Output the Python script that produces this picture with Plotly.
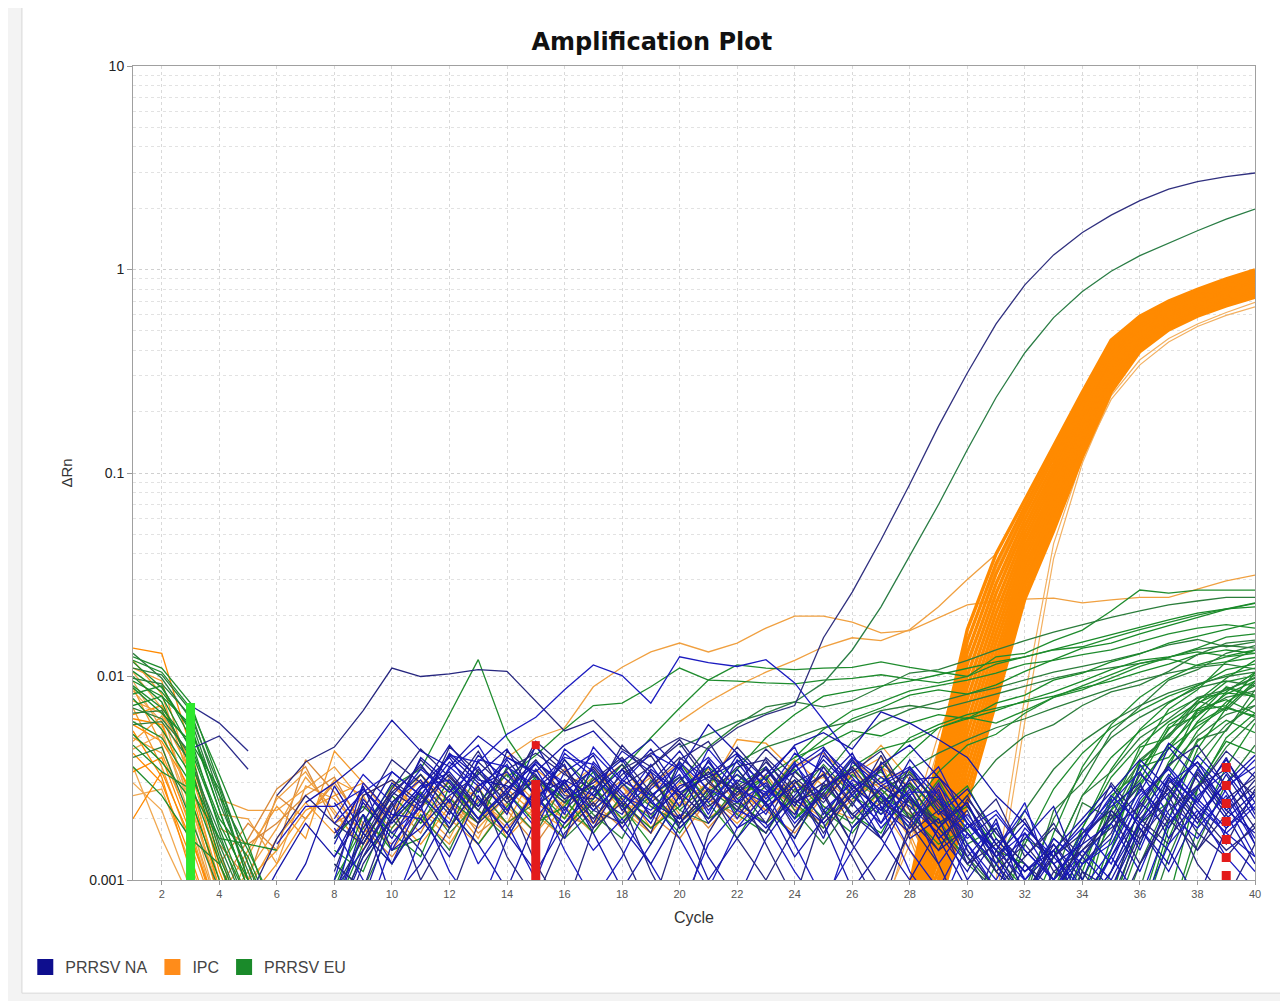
import plotly.graph_objects as go

# all curve values are in thousandths of dRn (1 = 0.001); converted when plotted

# --- IPC (orange) ---
ipc_early = [  # cycles 1..5
    [13.8, 13.0, 4.5, 1.2, 0.6],
    [11.0, 9.5, 3.2, 0.9, 0.5],
    [8.5, 6.0, 2.4, 0.8, 0.4],
    [6.5, 7.2, 3.8, 1.1, 0.5],
    [5.0, 4.2, 1.9, 0.7, 0.4],
    [9.5, 5.5, 2.0, 0.6, 0.3],
    [4.2, 3.0, 1.3, 0.5, 0.3],
    [7.0, 3.6, 1.5, 0.6, 0.3],
    [3.0, 2.2, 0.9, 0.4, 0.3],
    [5.8, 4.8, 2.8, 0.9, 0.4],
    [12.0, 8.2, 3.0, 1.0, 0.5],
    [3.6, 1.6, 0.8, 0.4, 0.3],
    [6.2, 5.8, 2.6, 0.8, 0.4],
    [4.8, 6.4, 3.4, 1.2, 0.5],
    [10.5, 7.0, 2.2, 0.7, 0.3],
    [3.4, 4.0, 1.7, 0.6, 0.3],
    [7.6, 6.6, 3.9, 1.4, 0.5],
    [2.6, 2.8, 1.2, 0.5, 0.3],
    [5.4, 3.2, 1.1, 0.5, 0.3],
    [8.8, 4.6, 1.8, 0.6, 0.3],
    [4.4, 5.2, 2.3, 0.9, 0.4],
    [2.0, 3.4, 1.6, 0.7, 0.3],
]

ipc_noise = [  # cycles 4..29
    [2.5, 2.2, 2.2, 2.8, 3.6, 2.4, 1.8, 2.7, 2.0, 1.5, 2.4, 3.1, 2.3, 1.7, 2.6, 3.3, 2.1, 1.9, 2.8, 3.5, 2.5, 2.0, 2.9, 2.3, 1.4, 0.8],
    [1.2, 1.9, 1.4, 3.9, 2.7, 1.6, 2.4, 1.7, 3.2, 2.5, 1.8, 2.6, 3.5, 2.4, 1.8, 2.9, 3.8, 2.6, 2.0, 2.7, 3.6, 4.2, 3.1, 2.5, 1.9, 1.0],
    [0.8, 1.4, 2.3, 1.6, 4.3, 3.0, 2.0, 3.3, 2.4, 1.9, 2.8, 2.1, 1.6, 2.9, 3.7, 2.3, 1.9, 2.8, 4.9, 4.7, 3.4, 2.6, 3.3, 4.0, 2.6, 1.2],
    [0.7, 1.1, 1.8, 3.2, 2.2, 1.4, 2.9, 2.2, 1.6, 3.0, 2.3, 1.7, 2.5, 3.2, 2.2, 1.7, 2.6, 3.4, 2.4, 1.9, 2.8, 3.2, 2.4, 3.6, 2.9, 1.5],
    [1.5, 1.0, 2.6, 2.0, 3.0, 1.9, 1.5, 2.3, 2.8, 2.0, 3.4, 2.4, 1.9, 2.4, 3.1, 2.6, 2.0, 2.3, 3.0, 2.2, 1.7, 2.6, 3.6, 2.8, 2.1, 0.9],
    [0.6, 0.9, 1.6, 2.4, 1.7, 2.6, 3.1, 2.0, 1.5, 2.5, 1.9, 3.5, 2.7, 2.0, 2.9, 1.8, 2.4, 3.0, 2.2, 3.1, 2.4, 1.8, 2.5, 3.2, 3.4, 1.8],
    [2.1, 2.0, 1.2, 2.9, 2.5, 1.7, 2.2, 3.1, 2.3, 1.8, 2.6, 2.0, 2.8, 3.6, 2.4, 2.1, 3.0, 2.5, 1.9, 2.6, 3.1, 2.3, 2.0, 2.7, 1.6, 0.7],
    [0.9, 1.6, 2.8, 3.6, 1.9, 2.3, 1.7, 2.5, 3.0, 2.2, 1.7, 2.9, 2.1, 1.8, 2.5, 3.2, 2.6, 1.8, 2.6, 3.3, 2.2, 2.8, 3.9, 3.0, 2.2, 1.1],
    [0.5, 0.8, 1.2, 2.0, 3.1, 2.6, 1.4, 2.2, 1.8, 2.9, 1.6, 2.3, 3.0, 1.9, 2.4, 1.7, 2.7, 2.0, 2.6, 3.0, 2.1, 3.4, 2.8, 3.7, 2.0, 0.9],
    [0.6, 1.3, 2.5, 3.4, 2.1, 1.5, 2.6, 1.9, 2.4, 1.6, 3.1, 2.2, 1.8, 2.6, 2.0, 3.0, 2.3, 2.8, 3.3, 2.6, 3.9, 2.9, 3.2, 4.6, 3.1, 1.6],
    [1.8, 1.5, 1.9, 2.6, 3.2, 1.8, 1.3, 2.0, 2.6, 1.7, 2.2, 1.5, 2.4, 1.9, 2.9, 2.1, 1.6, 2.5, 2.1, 2.9, 2.3, 1.9, 2.7, 3.0, 2.4, 1.3],
    [0.7, 1.0, 1.4, 2.2, 2.6, 3.0, 2.1, 1.5, 2.3, 2.8, 1.9, 2.5, 2.0, 3.1, 2.4, 1.8, 2.8, 3.5, 2.7, 2.2, 3.0, 2.5, 3.4, 2.6, 1.7, 0.8],
]

ipc_band = [  # cycles 27..40
    [0.3, 0.95, 4.2, 17, 40, 74, 135, 250, 450, 590, 700, 800, 900, 995],
    [0.3, 0.9, 3.73, 14.9, 35.8, 68.6, 127, 238, 433, 574, 685, 784, 882, 975],
    [0.3, 0.85, 3.31, 13.1, 32.0, 63.7, 119, 227, 416, 559, 670, 768, 864, 955],
    [0.3, 0.8, 2.93, 11.5, 28.6, 59.1, 111, 216, 400, 545, 656, 753, 846, 935],
    [0.3, 0.75, 2.60, 10.1, 25.6, 54.8, 104, 206, 385, 530, 641, 738, 829, 916],
    [0.3, 0.7, 2.31, 8.86, 22.9, 50.8, 98, 196, 370, 516, 628, 723, 812, 897],
    [0.3, 0.65, 2.05, 7.78, 20.5, 47.1, 92, 186, 356, 503, 614, 708, 796, 879],
    [0.3, 0.6, 1.82, 6.83, 18.3, 43.7, 86, 178, 342, 489, 601, 694, 780, 861],
    [0.3, 0.55, 1.61, 5.99, 16.4, 40.6, 81, 169, 329, 476, 588, 680, 764, 843],
    [0.3, 0.5, 1.43, 5.26, 14.7, 37.6, 76, 161, 316, 464, 575, 666, 749, 826],
    [0.3, 0.5, 1.27, 4.62, 13.1, 34.9, 71, 153, 304, 452, 563, 653, 733, 809],
    [0.3, 0.45, 1.13, 4.05, 11.7, 32.4, 67, 146, 292, 440, 551, 640, 718, 793],
    [0.3, 0.45, 1.00, 3.56, 10.5, 30.0, 63, 139, 281, 428, 539, 627, 704, 777],
    [0.3, 0.4, 0.89, 3.12, 9.4, 27.9, 59, 132, 270, 417, 527, 614, 690, 761],
    [0.3, 0.4, 0.79, 2.74, 8.4, 25.8, 55.5, 126, 260, 406, 516, 602, 676, 745],
    [0.3, 0.35, 0.70, 2.40, 7.5, 24.0, 52, 120, 250, 395, 505, 590, 662, 730],
]
ipc_fan = [  # cycles 27..40, thin wells beside the band
    [0.7, 1.5, 4.5, 13, 34, 66, 118, 220, 395, 555, 678, 780, 875, 970],
    [0.6, 1.8, 5.2, 12, 28, 55, 104, 200, 368, 530, 652, 752, 850, 948],
]
ipc_late = [  # cycles 31..40
    [1.0, 8.0, 45, 118, 230, 340, 440, 525, 595, 655],
    [0.8, 6.0, 38, 112, 240, 360, 458, 540, 615, 690],
]
ipc_high = [4.0, 5.0, 5.6, 8.9, 11.1, 13.2, 14.6, 13.2, 14.6, 17.3, 19.8, 19.8, 18.5, 16.4,
            16.8, 19.5, 22.5, 23.5, 24.0, 24.3, 23.0, 23.8, 24.5, 24.5, 27.0, 29.5, 31.5]  # from 14
ipc_rising = [6.0, 7.5, 9.0, 10.5, 12.0, 14.0, 15.5, 15.0, 17.0, 22.0, 30, 40, 74, 130,
              240, 440, 585, 695, 795, 895, 990]  # from 20

# --- PRRSV EU (green) ---
eu_early = [  # cycles 1..6
    [12.5, 11.0, 7.4, 3.0, 1.2, 0.6],
    [11.0, 10.2, 6.8, 2.6, 1.0, 0.5],
    [9.5, 8.0, 5.8, 2.2, 0.9, 0.4],
    [8.2, 9.0, 5.0, 1.8, 0.8, 0.4],
    [7.0, 6.2, 4.2, 1.5, 0.7, 0.3],
    [10.0, 7.5, 3.6, 1.3, 0.6, 0.3],
    [6.0, 5.0, 3.0, 1.2, 0.5, 0.3],
    [13.0, 9.8, 6.2, 2.4, 1.1, 0.5],
    [5.2, 3.8, 2.5, 1.0, 0.5, 0.3],
    [9.0, 7.0, 4.6, 2.0, 1.3, 0.6],
    [4.0, 4.5, 2.0, 0.9, 0.4, 0.3],
    [7.8, 5.5, 3.3, 1.6, 1.5, 1.4],
    [11.8, 8.8, 5.4, 2.6, 1.4, 0.7],
    [6.6, 6.8, 4.0, 1.4, 0.6, 0.3],
    [8.8, 6.6, 4.8, 2.8, 1.0, 0.4],
    [12.0, 10.5, 7.0, 3.3, 1.5, 0.6],
    [5.8, 6.0, 3.8, 1.7, 0.7, 0.3],
    [10.6, 8.4, 5.6, 2.2, 0.9, 0.4],
    [3.6, 2.6, 1.6, 1.2, 0.6, 0.3],
    [9.8, 9.2, 6.4, 2.9, 1.2, 0.5],
    [7.2, 8.0, 4.4, 1.9, 1.0, 0.5],
    [4.6, 3.4, 2.8, 1.6, 0.8, 0.4],
]
eu_noise = [  # cycles 8..32
    [0.7, 1.5, 2.6, 1.9, 3.1, 2.2, 1.6, 2.8, 2.0, 3.2, 2.3, 1.5, 2.6, 3.4, 2.1, 1.7, 2.8, 2.0, 3.3, 2.5, 1.8, 2.6, 1.9, 1.3, 0.9],
    [1.2, 0.9, 1.8, 2.7, 1.8, 3.4, 2.4, 1.7, 3.0, 2.1, 1.6, 3.1, 2.2, 1.9, 2.9, 3.6, 2.2, 1.5, 2.4, 3.2, 2.6, 1.8, 1.3, 0.9, 0.7],
    [0.9, 2.1, 1.4, 1.6, 2.5, 1.9, 3.6, 2.6, 1.8, 2.5, 3.7, 2.4, 1.7, 2.7, 3.5, 2.3, 1.6, 2.9, 2.1, 1.7, 3.0, 2.2, 2.9, 1.6, 1.1],
    [1.4, 1.1, 2.4, 3.3, 2.2, 1.5, 2.3, 3.2, 2.5, 1.7, 2.6, 2.0, 3.8, 2.4, 1.6, 2.7, 3.5, 2.3, 1.9, 2.8, 2.0, 3.1, 1.7, 1.2, 0.8],
    [0.8, 1.7, 1.2, 2.1, 1.4, 2.8, 1.9, 2.4, 3.9, 2.8, 1.9, 2.6, 3.2, 2.0, 2.4, 1.9, 2.5, 3.7, 2.6, 2.1, 3.4, 2.4, 1.5, 1.8, 1.0],
    [1.6, 2.3, 1.7, 1.3, 2.9, 2.0, 2.7, 1.9, 2.3, 3.4, 2.4, 1.8, 2.3, 3.6, 2.7, 3.2, 2.0, 2.6, 3.9, 2.4, 2.9, 1.9, 2.3, 1.4, 1.2],
    [1.0, 1.8, 2.9, 3.5, 6.5, 12.1, 5.0, 3.1, 2.4, 2.9, 2.0, 2.7, 1.8, 2.5, 3.3, 2.4, 3.1, 2.2, 1.7, 2.6, 2.1, 1.5, 1.8, 1.1, 0.8],
    [0.7, 1.3, 2.0, 2.6, 1.7, 2.4, 3.3, 2.2, 1.6, 2.2, 3.0, 2.3, 1.9, 2.8, 2.2, 2.9, 2.4, 1.8, 2.9, 3.4, 2.4, 2.0, 1.2, 0.9, 0.7],
]
eu_mid_start = [18, 20, 22, 24, 25, 26, 14, 20, 22, 24, 26, 27, 28, 29, 23]
eu_mid = [
    [3.5, 5.0, 7.0, 9.6, 11.4, 11.0, 10.8, 11.0, 11.1, 11.8, 11.1, 10.5, 10.0, 12.5, 13.0, 15.0, 16.9, 21.0, 26.6, 25.7, 26.6, 26.6, 26.6],
    [3.0, 4.5, 5.8, 7.1, 7.5, 7.1, 7.6, 8.9, 10.4, 10.8, 12.0, 13.5, 15.0, 16.5, 18.0, 19.5, 21.0, 22.5, 23.5, 24.5, 24.5],
    [3.5, 5.0, 6.5, 8.0, 8.5, 9.0, 9.5, 10.2, 11.0, 11.8, 12.5, 13.6, 14.8, 16.0, 17.5, 19.0, 20.5, 21.5, 22.0],
    [4.0, 5.5, 6.8, 7.5, 8.5, 9.0, 9.6, 10.4, 11.5, 12.0, 12.8, 13.5, 14.8, 16.2, 17.3, 18.0, 17.3],
    [3.2, 4.8, 6.0, 6.9, 7.5, 8.2, 8.8, 9.6, 10.5, 11.2, 12.0, 13.0, 14.3, 15.2, 14.0, 14.8],
    [2.5, 3.5, 5.0, 5.8, 6.5, 7.0, 7.5, 8.0, 8.8, 9.5, 10.5, 11.5, 12.8, 13.5, 13.0],
    [3.2, 4.1, 5.5, 7.2, 7.4, 8.9, 11.0, 9.6, 9.5, 9.3, 9.2, 9.6, 9.8, 10.2, 9.7, 9.3, 10.0, 11.5, 12.5, 13.5, 14.0, 15.5, 17.0, 18.5, 20.0, 21.5, 23.0],
    [2.2, 3.0, 3.8, 4.5, 5.0, 5.6, 6.0, 6.8, 7.2, 6.9, 7.5, 8.2, 9.0, 9.8, 10.5, 11.0, 11.6, 12.4, 13.6, 14.2, 13.8],
    [2.5, 3.2, 4.0, 4.6, 5.4, 5.1, 5.9, 6.5, 6.2, 6.8, 7.6, 8.4, 9.5, 10.8, 12.0, 12.5, 13.2, 12.6, 13.5],
    [2.0, 2.8, 3.6, 4.4, 4.8, 5.6, 6.3, 5.9, 6.8, 7.9, 9.0, 10.2, 11.6, 12.2, 11.3, 11.8, 12.4],
    [1.8, 2.6, 3.5, 4.2, 4.9, 5.6, 6.2, 7.0, 7.8, 8.7, 9.6, 10.4, 11.1, 11.5, 10.9],
    [3.0, 4.2, 5.6, 6.2, 7.4, 8.1, 9.6, 10.4, 11.8, 12.9, 14.6, 15.8, 17.1, 18.4],
    [2.2, 3.4, 4.6, 5.2, 6.6, 7.9, 8.6, 9.8, 11.2, 12.4, 13.8, 15.6, 16.2],
    [1.8, 2.6, 3.9, 5.1, 5.8, 7.2, 8.4, 9.1, 10.6, 12.8, 14.6, 15.1],
    [2.6, 3.8, 4.9, 6.2, 7.0, 8.1, 8.6, 8.2, 9.1, 10.6, 12.1, 13.8, 14.6, 16.2, 17.8, 19.6, 21.4, 22.9],
]
eu_late_start = [31, 31, 32, 32, 33, 33, 34, 34, 34, 35, 35, 35, 36, 36, 36, 37, 37, 33, 32, 30,
                 33, 34, 32, 35, 33, 36, 34, 35, 31, 36, 34, 32, 37, 33]
eu_late = [
    [0.6, 1.5, 2.8, 4.2, 5.6, 6.8, 8.0, 9.0, 10.2, 11.0],
    [0.5, 0.9, 2.0, 3.4, 5.0, 6.3, 7.5, 8.8, 9.5, 9.0],
    [0.6, 1.3, 2.6, 4.0, 5.4, 6.6, 7.8, 8.3, 8.0],
    [0.5, 0.9, 1.8, 3.2, 4.6, 6.0, 7.4, 8.6, 9.8],
    [0.6, 1.2, 2.4, 3.8, 5.2, 6.6, 7.9, 8.5],
    [0.5, 1.0, 1.9, 3.0, 4.4, 5.7, 7.0, 6.4],
    [0.6, 1.4, 2.9, 4.6, 6.4, 8.2, 9.5],
    [0.5, 1.1, 2.2, 3.6, 5.1, 6.5, 7.2],
    [0.6, 1.6, 3.4, 5.5, 7.6, 9.8, 12.0],
    [0.6, 1.5, 3.2, 5.4, 7.5, 9.0],
    [0.5, 1.2, 2.5, 4.1, 5.8, 7.2],
    [0.7, 1.9, 3.8, 6.0, 8.4, 10.5],
    [0.6, 1.6, 3.5, 5.5, 7.8],
    [0.5, 1.3, 2.8, 4.5, 6.2],
    [0.7, 2.0, 4.4, 7.0, 9.5],
    [0.6, 1.8, 3.6, 5.9],
    [0.6, 1.5, 3.0, 4.6],
    [0.7, 1.8, 3.5, 5.5, 7.4, 9.0, 10.8, 11.5],
    [0.7, 1.7, 3.6, 5.8, 7.9, 9.8, 11.4, 12.5, 13.0],
    [0.6, 1.2, 2.2, 3.5, 4.8, 6.0, 7.2, 8.3, 9.2, 10.0, 10.5],
    [0.6, 1.1, 2.6, 3.4, 5.8, 6.9, 8.8, 7.9],
    [0.7, 2.2, 3.1, 5.6, 6.4, 8.9, 8.1],
    [0.6, 1.0, 2.4, 2.0, 3.9, 5.1, 7.6, 6.8, 9.3],
    [0.8, 2.4, 3.6, 6.8, 7.2, 10.4],
    [0.5, 1.7, 2.2, 4.5, 5.0, 7.3, 9.4, 10.1],
    [0.9, 2.6, 4.9, 5.4, 8.6],
    [0.6, 1.4, 3.8, 4.4, 6.9, 7.7, 6.6],
    [0.7, 1.9, 2.4, 4.8, 6.1, 5.3],
    [0.7, 1.6, 1.3, 2.6, 3.4, 5.0, 6.2, 7.9, 8.6, 9.9],
    [0.6, 1.8, 2.9, 4.8, 4.2],
    [0.8, 2.5, 4.2, 6.9, 8.6, 11.8, 13.5],
    [0.8, 2.2, 3.0, 5.3, 7.1, 9.6, 10.8, 13.0, 14.2],
    [0.8, 2.8, 5.0, 6.6],
    [0.6, 1.3, 1.9, 3.6, 4.0, 5.9, 7.1, 6.3],
]
eu_amp = [4.5, 5.2, 6.0, 6.6, 7.5, 9.3, 13.5, 22, 39, 70, 130, 235, 390, 580,
          780, 980, 1170, 1350, 1550, 1770, 1980]  # from 20

# --- PRRSV NA (blue) ---
na_short = [[7.2, 5.9, 4.3], [4.4, 5.1, 3.5]]  # cycles 3..5
na_noise_start = [8, 8, 8, 8, 8, 8, 8, 8, 8, 8, 9, 9, 9, 9, 10, 5, 5, 6, 6, 8, 8, 8, 6, 8, 7,
                  8, 8, 8, 8, 8, 8]
na_noise = [
    [0.7, 1.9, 3.4, 2.6, 4.1, 3.0, 2.2, 3.8, 2.9, 1.8, 3.1, 4.4, 2.7, 2.0, 3.5, 2.4, 1.6, 3.0, 4.2, 2.3, 1.7, 2.8, 1.4, 0.9, 1.7, 1.2, 0.8, 1.3, 2.4, 1.8, 3.3, 2.1, 1.2],
    [1.2, 0.9, 2.2, 3.9, 2.8, 1.9, 4.3, 3.2, 2.4, 3.6, 2.5, 1.7, 3.9, 4.8, 2.9, 1.9, 3.4, 2.6, 1.5, 3.8, 2.8, 1.6, 2.2, 1.1, 0.8, 1.5, 1.0, 0.8, 1.7, 3.1, 2.2, 1.5, 2.8],
    [0.8, 2.5, 1.7, 2.3, 3.5, 4.6, 2.7, 1.8, 3.4, 4.2, 3.0, 2.1, 2.8, 3.6, 2.0, 3.3, 4.5, 2.2, 3.0, 1.8, 2.6, 3.6, 1.9, 1.4, 2.4, 0.9, 1.3, 1.9, 1.1, 2.4, 4.1, 2.9, 3.6],
    [1.5, 2.9, 1.4, 1.8, 2.6, 3.3, 4.4, 2.5, 1.9, 2.7, 4.3, 3.4, 1.8, 2.5, 4.1, 2.8, 2.1, 3.6, 2.4, 1.6, 3.2, 2.1, 2.8, 1.7, 1.2, 0.8, 1.6, 2.3, 3.0, 1.6, 2.5, 3.9, 2.4],
    [0.9, 1.6, 2.8, 4.4, 3.2, 2.3, 3.0, 4.5, 3.4, 2.2, 1.9, 2.9, 4.0, 3.1, 2.2, 4.0, 2.9, 1.7, 2.7, 3.5, 2.0, 1.4, 1.8, 2.5, 1.3, 1.9, 1.1, 0.9, 2.0, 2.8, 1.7, 1.3, 1.9],
    [2.0, 3.3, 2.4, 3.1, 1.8, 2.9, 3.7, 2.1, 4.2, 3.2, 2.4, 3.7, 2.3, 4.4, 3.0, 2.1, 3.7, 2.5, 3.9, 2.6, 1.9, 3.0, 1.5, 1.0, 1.8, 1.3, 0.9, 1.4, 2.6, 3.5, 2.3, 1.7, 1.3],
    [0.6, 1.3, 2.0, 2.9, 4.0, 2.5, 1.7, 2.8, 3.7, 1.9, 3.5, 2.6, 3.3, 1.9, 2.7, 3.5, 2.3, 4.1, 2.9, 2.2, 3.9, 2.6, 1.2, 1.8, 1.0, 1.4, 2.0, 2.9, 1.8, 1.2, 2.6, 3.4, 2.2],
    [1.7, 2.2, 3.9, 3.0, 2.1, 3.8, 2.8, 3.9, 2.6, 2.5, 4.6, 3.2, 2.0, 3.0, 4.5, 3.1, 1.8, 2.9, 3.4, 4.3, 2.5, 1.9, 2.4, 1.2, 0.8, 1.6, 1.2, 1.7, 3.3, 2.6, 1.4, 2.1, 3.1],
    [1.0, 3.0, 2.1, 2.0, 3.6, 2.7, 4.0, 3.3, 1.6, 3.8, 2.7, 1.9, 3.6, 2.4, 3.3, 2.6, 4.2, 3.4, 2.0, 2.9, 3.5, 2.3, 1.6, 2.1, 1.4, 1.0, 1.7, 2.5, 1.4, 3.0, 3.8, 2.7, 1.6],
    [2.4, 1.5, 2.6, 3.7, 2.4, 4.1, 3.1, 2.3, 3.0, 4.1, 2.2, 3.0, 4.3, 2.7, 1.8, 2.2, 3.1, 1.9, 2.6, 3.7, 4.6, 3.2, 2.0, 1.3, 1.9, 1.2, 0.7, 1.1, 2.2, 4.5, 3.1, 2.0, 2.7],
    [1.3, 2.4, 3.3, 2.2, 3.5, 2.6, 4.8, 3.6, 2.3, 3.3, 4.1, 2.5, 3.4, 2.6, 3.8, 2.7, 3.3, 1.8, 2.4, 3.0, 1.8, 2.6, 1.5, 2.0, 1.1, 1.4, 2.0, 2.9, 1.9, 2.8, 4.3, 3.2],
    [2.1, 1.2, 2.5, 3.8, 2.9, 3.4, 2.2, 4.4, 3.4, 1.8, 2.8, 3.7, 2.1, 3.9, 2.9, 2.0, 4.4, 3.2, 2.1, 2.7, 2.7, 1.3, 1.9, 1.0, 1.6, 1.2, 1.6, 3.7, 2.4, 1.8, 2.6, 1.5],
    [0.8, 2.0, 4.0, 3.0, 2.0, 2.8, 3.7, 2.5, 3.0, 3.9, 2.4, 2.0, 3.9, 2.4, 3.6, 2.4, 2.8, 3.5, 1.9, 3.6, 2.2, 1.7, 1.2, 1.6, 2.3, 1.0, 2.2, 1.5, 3.2, 2.0, 3.0, 4.1],
    [1.8, 2.7, 2.2, 4.5, 3.4, 2.4, 3.1, 2.8, 2.0, 2.9, 3.6, 4.7, 3.0, 2.3, 1.7, 3.0, 3.6, 2.3, 4.1, 2.2, 1.4, 2.5, 1.7, 1.2, 0.9, 1.5, 3.0, 2.0, 1.5, 3.4, 2.2, 2.9],
    [1.4, 2.6, 1.9, 3.9, 3.6, 2.9, 4.0, 3.7, 2.6, 2.2, 3.1, 4.0, 2.8, 2.4, 3.8, 2.1, 3.1, 2.7, 1.8, 2.9, 1.9, 1.4, 2.2, 1.3, 1.8, 1.2, 2.5, 3.6, 2.5, 1.8, 2.4],
    [0.6, 1.1, 1.9, 1.3, 2.4, 1.6, 2.8, 3.4, 2.3, 3.9, 2.6, 3.1, 2.6, 3.5, 2.0, 2.9, 3.3, 4.2, 2.3, 2.9, 1.6, 3.8, 2.9, 2.3, 1.7, 1.1, 2.0, 0.8, 1.3, 1.9, 2.7, 3.9, 2.8, 1.9, 3.3, 2.0],
    [0.8, 1.6, 2.6, 1.9, 1.5, 2.7, 3.6, 2.7, 4.3, 2.5, 3.3, 2.2, 3.1, 4.0, 2.7, 1.9, 2.6, 3.6, 3.9, 2.5, 3.3, 2.1, 2.8, 3.3, 2.4, 1.7, 1.1, 1.5, 1.0, 1.4, 1.8, 2.3, 3.7, 4.6, 2.9, 1.8],
    [1.5, 2.3, 2.3, 2.8, 2.0, 2.9, 3.1, 2.0, 2.7, 3.8, 3.0, 2.2, 3.0, 4.2, 3.5, 2.2, 3.1, 2.7, 3.4, 4.3, 2.6, 1.9, 2.8, 1.6, 2.1, 1.4, 1.0, 0.7, 1.2, 1.5, 2.8, 2.0, 3.5, 2.4, 1.3],
    [0.7, 1.2, 2.9, 1.7, 3.0, 2.3, 4.2, 3.2, 2.1, 4.6, 2.7, 3.5, 2.3, 3.4, 2.6, 3.8, 2.5, 1.8, 2.6, 3.9, 2.8, 3.6, 1.6, 2.0, 1.0, 1.6, 1.1, 1.5, 0.9, 1.0, 1.9, 2.7, 3.8, 2.3, 3.4],
    [1.1, 2.6, 3.1, 2.4, 3.3, 2.2, 3.5, 4.2, 3.3, 2.8, 3.7, 2.4, 3.2, 2.3, 3.0, 4.4, 3.2, 2.4, 3.6, 2.4, 2.0, 2.5, 1.4, 0.9, 1.3, 1.8, 1.3, 2.1, 1.2, 2.2, 2.9, 3.5, 2.6],
    [0.9, 1.4, 2.3, 3.5, 2.7, 3.6, 2.2, 3.5, 2.1, 4.5, 3.1, 2.5, 3.8, 2.8, 2.4, 3.0, 1.9, 2.7, 4.0, 3.2, 2.5, 1.2, 1.9, 1.3, 1.7, 1.0, 1.6, 2.4, 3.4, 2.1, 1.6, 2.8, 3.9],
    [1.6, 2.8, 1.9, 2.8, 4.6, 3.1, 2.9, 2.4, 3.9, 2.6, 2.1, 3.5, 2.7, 3.2, 3.8, 2.5, 3.6, 4.5, 2.9, 2.2, 3.1, 3.2, 2.3, 1.5, 1.1, 1.4, 0.8, 1.3, 2.1, 3.3, 2.4, 4.0, 2.1],
    [2.6, 3.8, 4.5, 6.8, 11.0, 10.0, 10.3, 10.8, 10.6, 7.6, 5.4, 6.1, 4.4, 3.6, 4.9, 3.2, 2.8, 3.5, 2.4, 3.0, 2.1, 1.6, 2.5, 1.8, 1.2, 1.5, 0.9, 1.3, 1.7, 2.2, 1.6, 2.9, 2.0, 1.4, 1.8],
    [1.9, 2.7, 3.4, 2.6, 4.1, 3.8, 5.2, 6.3, 8.6, 11.4, 10.1, 7.4, 12.5, 11.7, 11.2, 12.1, 9.3, 6.1, 4.0, 3.0, 3.6, 2.5, 1.8, 2.2, 1.4, 1.0, 1.6, 2.6, 1.9, 3.2, 2.4, 1.7, 2.3],
    [2.4, 3.0, 3.9, 6.1, 4.3, 3.6, 5.1, 4.0, 3.4, 4.6, 5.4, 3.8, 4.9, 3.5, 5.8, 4.2, 3.1, 4.6, 5.3, 4.4, 6.7, 5.9, 4.9, 4.0, 2.6, 1.9, 1.2, 1.5, 1.9, 2.7, 4.7, 3.6, 2.2, 1.7],
    [0.5, 1.2, 2.0, 1.4, 0.8, 1.9, 2.6, 1.2, 0.7, 1.8, 2.4, 1.1, 0.6, 1.7, 2.9, 1.5, 0.8, 2.2, 1.3, 0.7, 1.9, 1.2, 0.6, 1.4, 0.8, 0.5, 1.1, 0.7, 1.6, 2.4, 1.2, 0.8, 1.5],
    [0.9, 0.6, 1.5, 2.3, 1.1, 0.7, 1.6, 2.8, 1.4, 0.8, 1.3, 2.5, 1.6, 0.9, 1.8, 2.7, 1.5, 0.8, 1.4, 2.3, 1.1, 0.7, 1.5, 0.9, 0.6, 1.0, 0.7, 1.3, 0.8, 1.9, 2.9, 1.6, 1.1],
    [1.3, 2.1, 0.8, 1.2, 2.2, 1.5, 0.9, 2.0, 3.1, 1.7, 0.9, 1.5, 2.6, 1.3, 0.8, 1.6, 2.5, 1.9, 0.9, 1.4, 2.6, 1.6, 0.9, 0.6, 1.2, 0.8, 1.3, 0.9, 1.8, 1.1, 2.1, 3.0, 1.5],
    [0.6, 1.4, 2.4, 1.0, 1.8, 2.9, 1.3, 0.8, 1.7, 2.4, 1.4, 0.7, 1.9, 2.8, 1.6, 1.0, 1.8, 2.7, 1.5, 0.9, 1.7, 2.2, 1.3, 0.8, 0.6, 1.1, 0.9, 0.6, 1.2, 2.0, 1.4, 2.5, 3.2],
    [1.8, 1.0, 0.7, 1.6, 2.5, 1.2, 1.9, 1.0, 2.3, 1.4, 2.0, 1.2, 0.7, 1.5, 2.2, 1.9, 1.1, 0.7, 1.8, 2.6, 1.4, 0.9, 1.7, 1.2, 0.7, 0.9, 1.4, 1.0, 0.7, 1.5, 2.2, 1.3, 0.9],
    [0.7, 1.7, 1.2, 2.0, 1.3, 2.6, 1.7, 1.1, 1.9, 2.9, 1.8, 1.2, 2.1, 1.0, 1.6, 2.4, 1.3, 2.0, 2.8, 1.6, 1.0, 1.8, 2.4, 1.3, 0.8, 1.4, 0.7, 1.1, 1.9, 1.4, 0.8, 1.8, 2.6],
]
na_amp = [3.5, 4.2, 5.0, 4.4, 5.6, 6.5, 7.2, 15.5, 26, 47, 88, 170, 310, 540, 840, 1180,
          1520, 1850, 2180, 2480, 2700, 2860, 2980]  # from 18

# baseline start / end markers
bar_cycle = [3, 15, 39]
bar_top = [7.4, 3.1, 3.9]
bar_color = ["#2ee82e", "#e31b1b", "#e31b1b"]
bar_dash = ["solid", "solid", "dot"]
bar_dot_top = 4.6

NA_COL = ["#1616a8", "#26267f", "#1b1bc0"]
EU_COL = ["#1f8c2e", "#2b7d3b", "#188a28"]
IPC_COL = ["#ff8a00", "#f39a2e", "#f0a850"]

fig = go.Figure()


def add_lines(starts, lines, colors, width=1.3):
    for i, (s, vals) in enumerate(zip(starts, lines)):
        fig.add_trace(go.Scatter(
            x=list(range(s, s + len(vals))), y=[v / 1000 for v in vals],
            mode="lines", line=dict(color=colors[i % len(colors)], width=width),
            showlegend=False, hoverinfo="skip"))


add_lines([1] * len(ipc_early), ipc_early, IPC_COL)
add_lines([4] * len(ipc_noise), ipc_noise, ["#f0a040", "#d98a3a", "#f39a2e"])
add_lines([14, 20], [ipc_high, ipc_rising], ["#f0a040"])
add_lines([31] * len(ipc_late), ipc_late, ["#f3b060"], 1.2)
add_lines([27] * len(ipc_fan), ipc_fan, ["#f3a850"], 1.2)
add_lines([27] * len(ipc_band), ipc_band, ["#ff8a00"], 3.4)

add_lines([1] * len(eu_early), eu_early, EU_COL)
add_lines([8] * len(eu_noise), eu_noise, EU_COL)
add_lines(eu_mid_start, eu_mid, EU_COL)
add_lines(eu_late_start, eu_late, EU_COL)
add_lines([20], [eu_amp], ["#2a7d45"])

add_lines([3] * len(na_short), na_short, ["#2b2b8a"])
add_lines(na_noise_start, na_noise, NA_COL)
add_lines([18], [na_amp], ["#30307f"])

for c, top, col, dash in zip(bar_cycle, bar_top, bar_color, bar_dash):
    fig.add_trace(go.Scatter(x=[c, c], y=[0.001, top / 1000], mode="lines",
                             line=dict(color=col, width=9, dash=dash),
                             showlegend=False, hoverinfo="skip"))
fig.add_trace(go.Scatter(x=[bar_cycle[1]], y=[bar_dot_top / 1000], mode="markers",
                         marker=dict(color=bar_color[1], size=8, symbol="square"),
                         showlegend=False, hoverinfo="skip"))

for name, col in [("PRRSV NA", "#0e0e8e"), ("IPC", "#ff8c1a"), ("PRRSV EU", "#1a8a2a")]:
    fig.add_trace(go.Scatter(x=[None], y=[None], mode="markers", name=name,
                             marker=dict(color=col, size=16, symbol="square")))

minor_vals = [m * 10 ** e for e in range(-3, 1) for m in range(2, 10)]

# the page has an 8px body margin, so the figure is sized to leave room for it
fig.update_layout(
    width=1280, height=993,
    margin=dict(l=125, r=33, t=58, b=121),
    paper_bgcolor="#f3f3f3", plot_bgcolor="white",
    font=dict(family="Liberation Sans, Arial, sans-serif", color="#222"),
    title=dict(text="<b>Amplification Plot</b>", x=0.503, xref="container", xanchor="center",
               y=0.966, yref="container", yanchor="middle",
               font=dict(family="DejaVu Sans", size=24, color="#111")),
    showlegend=True,
    legend=dict(orientation="h", x=-0.096, xanchor="left", y=-0.107, yanchor="middle",
                font=dict(size=16, color="#444"), bgcolor="rgba(0,0,0,0)", itemwidth=30),
    shapes=[dict(type="rect", xref="paper", yref="paper", x0=-0.099, x1=1.027,
                 y0=-0.139, y1=1.08, fillcolor="white", line=dict(color="#d8d8d8", width=1),
                 layer="below")],
)
fig.update_xaxes(
    range=[1, 40], tickmode="array", tickvals=list(range(2, 41, 2)),
    tickfont=dict(size=11, color="#555"), ticks="outside", ticklen=4, tickcolor="#999",
    showgrid=True, gridcolor="#d9d9d9", griddash="dot", zeroline=False,
    showline=True, linecolor="#a0a0a0", mirror=True,
    title=dict(text="Cycle", font=dict(size=16, color="#333"), standoff=12),
)
fig.update_yaxes(
    type="log", range=[-3, 1], tickmode="array",
    tickvals=[0.001, 0.01, 0.1, 1, 10], ticktext=["0.001", "0.01", "0.1", "1", "10"],
    tickfont=dict(size=14, color="#222"), ticks="outside", ticklen=5, tickcolor="#999",
    showgrid=True, gridcolor="#d0d0d0", griddash="dot", zeroline=False,
    showline=True, linecolor="#a0a0a0", mirror=True,
    minor=dict(tickmode="array", tickvals=minor_vals, showgrid=True, gridcolor="#e2e2e2",
               griddash="dot", ticks=""),
    title=dict(text="ΔRn", font=dict(size=15, color="#333"), standoff=12),
)

fig.write_html("out.html")
